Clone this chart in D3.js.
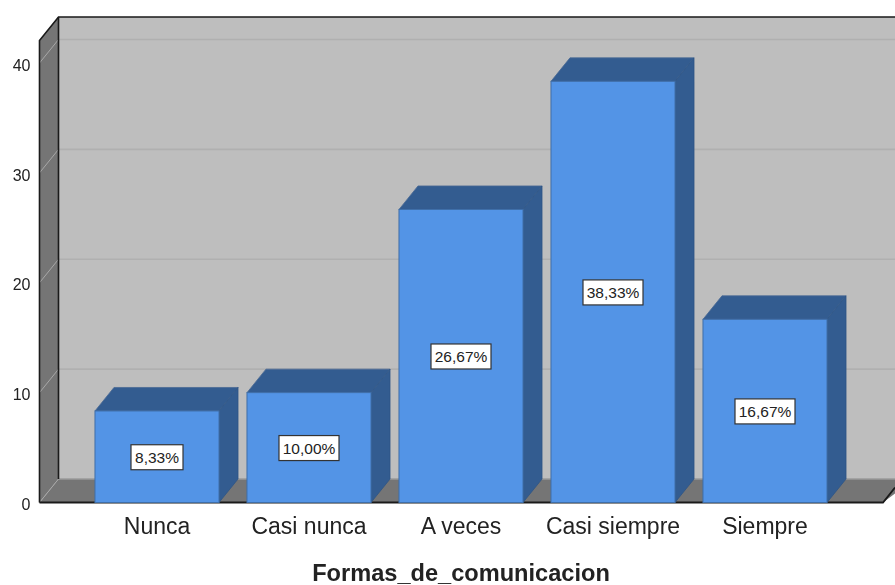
<!DOCTYPE html>
<html><head><meta charset="utf-8">
<script src="https://cdn.jsdelivr.net/npm/d3@7/dist/d3.min.js"></script>
<style>html,body{margin:0;background:#fff}svg{display:block;filter:blur(0.4px)}text{font-family:"Liberation Sans",Arial,sans-serif;fill:#222}</style>
</head><body><svg id="c" width="895" height="585"></svg>
<script>
const categories = ["Nunca","Casi nunca","A veces","Casi siempre","Siempre"];
const percentages = [8.33,10.00,26.67,38.33,16.67];
const yTicks = [0,10,20,30,40];
const axisTitle = "Formas_de_comunicacion";

const svg = d3.select("#c");
const x = d3.scaleBand().domain(categories).range([81,841]).paddingInner(0.184).paddingOuter(0.092);
const y = d3.scaleLinear().domain([0,40]).range([502.5,63]);
const dx = 19, dy = -23.5;
const left = 39.5, right = 895+dx, yMax = 42.05;
const fmt = v => v.toFixed(2).replace(".",",")+"%";
const poly = pts => pts.map(p=>p.join(",")).join(" ");

// walls
svg.append("rect").attr("x",left+dx).attr("y",y(yMax)+dy).attr("width",right-left).attr("height",y(0)-y(yMax)).attr("fill","#bebebe");
svg.append("polygon").attr("fill","#757575").attr("points",poly([[left,y(0)],[left+dx,y(0)+dy],[left+dx,y(yMax)+dy],[left,y(yMax)]]));
svg.append("polygon").attr("fill","#757575").attr("points",poly([[left,y(0)],[left+dx,y(0)+dy],[right,y(0)+dy],[883,y(0)]]));
// gridlines
svg.append("g").selectAll("line").data(yTicks.slice(1)).join("line")
  .attr("x1",left+dx).attr("x2",895).attr("y1",d=>y(d)+dy).attr("y2",d=>y(d)+dy)
  .attr("stroke","#b0b0b0").attr("stroke-width",1.6);
svg.append("g").selectAll("line").data(yTicks.slice(1)).join("line")
  .attr("x1",left).attr("x2",left+dx).attr("y1",d=>y(d)).attr("y2",d=>y(d)+dy)
  .attr("stroke","#a8a8a8").attr("stroke-width",1);
svg.append("line").attr("x1",left).attr("x2",left+dx).attr("y1",y(0)).attr("y2",y(0)+dy).attr("stroke","#a8a8a8");
svg.append("line").attr("x1",left+dx).attr("x2",895).attr("y1",y(0)+dy).attr("y2",y(0)+dy).attr("stroke","#9a9a9a").attr("stroke-width",1.5);
// frame
const ink = "#1a1a1a";
svg.append("path").attr("fill","none").attr("stroke",ink).attr("stroke-width",1.6)
  .attr("d",`M${left},${y(0)}V${y(yMax)}L${left+dx},${y(yMax)+dy}H895`);
svg.append("path").attr("fill","none").attr("stroke",ink).attr("stroke-width",1.6)
  .attr("d",`M${left+dx},${y(yMax)+dy}V${y(0)+dy}`);
svg.append("path").attr("fill","none").attr("stroke",ink).attr("stroke-width",1.8)
  .attr("d",`M${left},${y(0)}H883L895,${y(0)-15}`);

// bars
const bars = svg.append("g").selectAll("g").data(categories.map((c,i)=>({c,v:percentages[i]}))).join("g");
const bw = x.bandwidth();
bars.append("polygon").attr("fill","#335c90").attr("stroke","#4a6a94").attr("stroke-width",.8)
  .attr("points",d=>poly([[x(d.c),y(d.v)],[x(d.c)+dx,y(d.v)+dy],[x(d.c)+bw+dx,y(d.v)+dy],[x(d.c)+bw,y(d.v)]]));
bars.append("polygon").attr("fill","#335c90").attr("stroke","#2f5585").attr("stroke-width",.8)
  .attr("points",d=>poly([[x(d.c)+bw,y(d.v)],[x(d.c)+bw+dx,y(d.v)+dy],[x(d.c)+bw+dx,y(0)+dy],[x(d.c)+bw,y(0)]]));
bars.append("rect").attr("x",d=>x(d.c)).attr("y",d=>y(d.v)).attr("width",bw).attr("height",d=>y(0)-y(d.v))
  .attr("fill","#5394e6").attr("stroke","#3f6ea8").attr("stroke-width",1);
// data labels
const lab = bars.append("g").attr("transform",d=>`translate(${x(d.c)+bw/2},${(y(d.v)+y(0))/2})`);
lab.append("rect").attr("x",d=>d.v<10?-26:-30).attr("width",d=>d.v<10?52:60).attr("y",-12).attr("height",25)
  .attr("fill","#fff").attr("stroke","#333").attr("stroke-width",1.2);
lab.append("text").attr("text-anchor","middle").attr("y",6.5).attr("font-size",15.5).attr("fill","#111").text(d=>fmt(d.v));

// axes
const gy = svg.append("g").attr("transform",`translate(${left},2)`)
  .call(d3.axisLeft(y).tickValues(yTicks).tickSize(0).tickPadding(9));
gy.select(".domain").remove();
gy.selectAll("text").attr("font-size",16).style("font-family",'"Liberation Sans"').attr("fill","#222");
const gx = svg.append("g").attr("transform",`translate(0,${y(0)})`)
  .call(d3.axisBottom(x).tickSize(0).tickPadding(15.5));
gx.select(".domain").remove();
gx.selectAll("text").attr("font-size",23).style("font-family",'"Liberation Sans"').attr("fill","#333");
svg.append("text").attr("x",461).attr("y",581).attr("text-anchor","middle").attr("font-size",23.6).attr("font-weight","bold").attr("fill","#111").text(axisTitle);
</script></body></html>
